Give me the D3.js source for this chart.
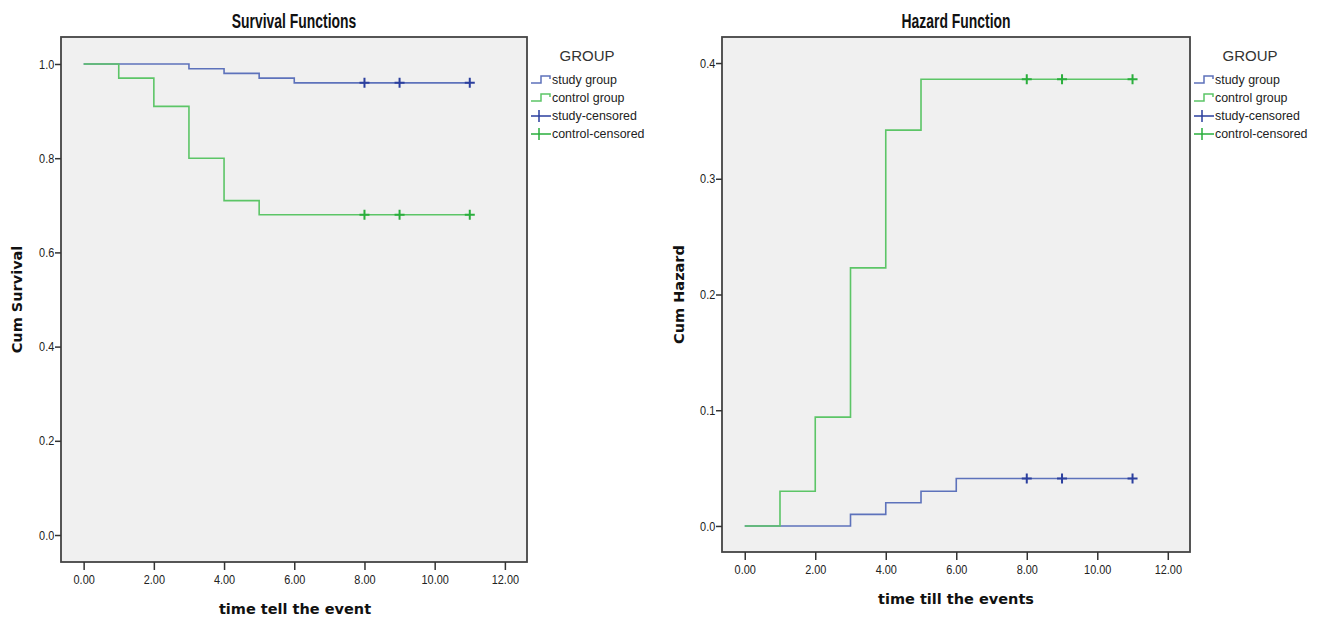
<!DOCTYPE html>
<html>
<head>
<meta charset="utf-8">
<script src="https://d3js.org/d3.v7.min.js"></script>
<style>
  body { margin: 0; background: #fff; }
  .narrow { font-family: "Liberation Sans Narrow", "Arial Narrow", "Liberation Sans", Arial, sans-serif; }
  .tick text { font-family: "Liberation Sans", Arial, sans-serif; font-size: 13px; fill: #222; }
  .tick line { stroke: #333; stroke-width: 1.5px; }
</style>
</head>
<body>
<div id="chart"></div>
<script>
// ---- data ----
var xTicks = [0, 2, 4, 6, 8, 10, 12];
var survTicks = [0.0, 0.2, 0.4, 0.6, 0.8, 1.0];
var hazTicks = [0.0, 0.1, 0.2, 0.3, 0.4];

// step points (time, value) for each group
var studyTimes = [0, 3, 4, 5, 6, 11];
var studySurvival = [1.0, 0.99, 0.98, 0.97, 0.96, 0.96];
var studyHazard = [0.0, 0.010, 0.020, 0.030, 0.041, 0.041];

var controlTimes = [0, 1, 2, 3, 4, 5, 11];
var controlSurvival = [1.0, 0.97, 0.91, 0.80, 0.71, 0.68, 0.68];
var controlHazard = [0.0, 0.030, 0.094, 0.223, 0.342, 0.386, 0.386];

// censored observations
var censorTimes = [8, 9, 11];
var studySurvCensor = [0.96, 0.96, 0.96];
var controlSurvCensor = [0.68, 0.68, 0.68];
var studyHazCensor = [0.041, 0.041, 0.041];
var controlHazCensor = [0.386, 0.386, 0.386];

var legendLabels = ["study group", "control group", "study-censored", "control-censored"];

var blueLine = "#5d72bb", greenLine = "#5cc567";
var blueMark = "#2b3f9e", greenMark = "#2aae3c";

var svg = d3.select("#chart").append("svg")
    .attr("width", 1323)
    .attr("height", 619);

function zip(xs, ys) {
    return xs.map(function (t, i) { return [t, ys[i]]; });
}

function drawPanel(p) {
    var g = svg.append("g");

    var x = d3.scaleLinear().domain([-0.645, 12.63]).range([p.left, p.right]);
    var y = d3.scaleLinear().domain(p.yDomain).range([p.bottom, p.top]);

    // plot background + frame
    g.append("rect")
        .attr("x", p.left).attr("y", p.top)
        .attr("width", p.right - p.left).attr("height", p.bottom - p.top)
        .attr("fill", "#f0f0f0")
        .attr("stroke", "#444")
        .attr("stroke-width", 1.8);

    // axes
    g.append("g")
        .attr("transform", "translate(0," + p.bottom + ")")
        .call(d3.axisBottom(x).tickValues(xTicks).tickSize(8).tickPadding(5)
            .tickFormat(d3.format(".2f")))
        .call(function (a) {
            a.select(".domain").remove();
            a.selectAll(".tick text").attr("transform", "scale(0.84,1)");
        });

    g.append("g")
        .attr("transform", "translate(" + p.left + ",0)")
        .call(d3.axisLeft(y).tickValues(p.yTicks).tickSize(6).tickPadding(2)
            .tickFormat(d3.format(".1f")))
        .call(function (a) {
            a.select(".domain").remove();
            a.selectAll(".tick text").attr("transform", "scale(0.84,1)");
        });

    // step lines
    var line = d3.line()
        .x(function (d) { return x(d[0]); })
        .y(function (d) { return y(d[1]); })
        .curve(d3.curveStepAfter);

    g.append("path")
        .datum(zip(studyTimes, p.study))
        .attr("fill", "none")
        .attr("stroke", blueLine)
        .attr("stroke-width", 1.6)
        .attr("d", line);

    g.append("path")
        .datum(zip(controlTimes, p.control))
        .attr("fill", "none")
        .attr("stroke", greenLine)
        .attr("stroke-width", 1.6)
        .attr("d", line);

    // censored markers
    function crosses(data, color) {
        g.append("g").selectAll("path")
            .data(data)
            .enter().append("path")
            .attr("d", function (d) {
                var cx = x(d[0]), cy = y(d[1]);
                return "M" + (cx - 5) + "," + cy + "H" + (cx + 5) +
                    "M" + cx + "," + (cy - 5) + "V" + (cy + 5);
            })
            .attr("stroke", color)
            .attr("stroke-width", 2);
    }
    crosses(zip(censorTimes, p.studyCensor), blueMark);
    crosses(zip(censorTimes, p.controlCensor), greenMark);

    // titles
    var cx = (p.left + p.right) / 2;
    g.append("text")
        .attr("transform", "translate(" + cx + ",28) scale(0.68,1)")
        .attr("text-anchor", "middle")
        .attr("class", "narrow")
        .style("font-size", "20.5px")
        .style("font-weight", "bold")
        .attr("fill", "#111")
        .text(p.title);

    g.append("text")
        .attr("x", cx + p.xTitleShift)
        .attr("y", p.xTitleY)
        .attr("text-anchor", "middle")
        .style("font-family", "DejaVu Sans, sans-serif")
        .style("font-size", "14.5px")
        .style("font-weight", "bold")
        .attr("fill", "#111")
        .text(p.xTitle);

    g.append("text")
        .attr("transform", "translate(" + p.yTitleX + "," + ((p.top + p.bottom) / 2) + ") rotate(-90)")
        .attr("text-anchor", "middle")
        .style("font-family", "DejaVu Sans, sans-serif")
        .style("font-size", "14.5px")
        .style("font-weight", "bold")
        .attr("fill", "#111")
        .text(p.yTitle);

    // legend
    var lx = p.right + 4;
    var lg = g.append("g").attr("class", "narrow");
    lg.append("text")
        .attr("x", lx + 56).attr("y", 61)
        .attr("text-anchor", "middle")
        .style("font-family", "Liberation Sans, Arial, sans-serif")
        .style("font-size", "15px")
        .attr("fill", "#333")
        .text("GROUP");

    var colors = [blueLine, greenLine, blueMark, greenMark];
    legendLabels.forEach(function (lab, i) {
        var ly = 80 + i * 18;
        if (i < 2) {
            lg.append("path")
                .attr("d", "M" + lx + "," + (ly + 3) + "H" + (lx + 10) + "V" + (ly - 4) +
                    "H" + (lx + 19) + "V" + (ly - 1))
                .attr("fill", "none")
                .attr("stroke", colors[i])
                .attr("stroke-width", 1.5);
        } else {
            lg.append("path")
                .attr("d", "M" + lx + "," + ly + "H" + (lx + 20) +
                    "M" + (lx + 8) + "," + (ly - 6) + "V" + (ly + 6))
                .attr("stroke", colors[i])
                .attr("stroke-width", 1.5);
        }
        lg.append("text")
            .attr("transform", "translate(" + (lx + 21) + "," + (ly + 4) + ") scale(0.92,1)")
            .style("font-size", "13.5px")
            .attr("fill", "#222")
            .text(lab);
    });
}

drawPanel({
    left: 61, right: 527, top: 37, bottom: 562,
    yDomain: [-0.0573, 1.0573], yTicks: survTicks,
    study: studySurvival, control: controlSurvival,
    studyCensor: studySurvCensor, controlCensor: controlSurvCensor,
    title: "Survival Functions",
    xTitle: "time tell the event", xTitleY: 614, xTitleShift: 1,
    yTitle: "Cum Survival", yTitleX: 22
});

drawPanel({
    left: 722, right: 1190, top: 37, bottom: 552,
    yDomain: [-0.0225, 0.4225], yTicks: hazTicks,
    study: studyHazard, control: controlHazard,
    studyCensor: studyHazCensor, controlCensor: controlHazCensor,
    title: "Hazard Function",
    xTitle: "time till the events", xTitleY: 604, xTitleShift: 0,
    yTitle: "Cum Hazard", yTitleX: 684
});
</script>
</body>
</html>
